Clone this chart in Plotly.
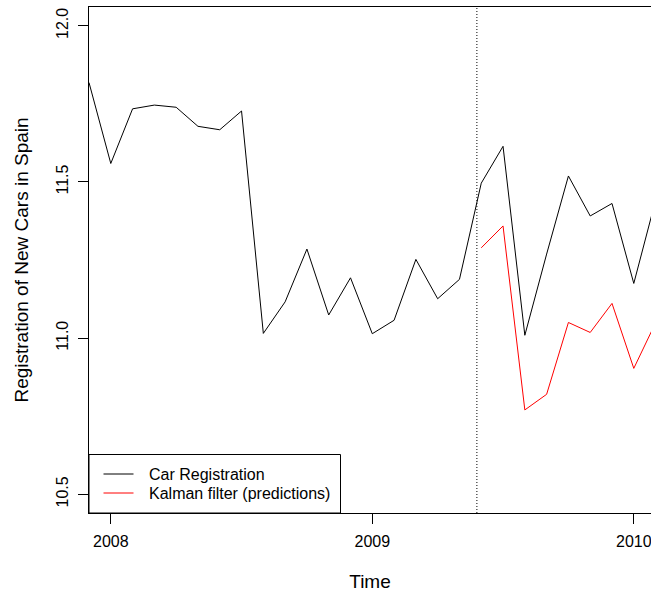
import numpy as np
import plotly.graph_objects as go

# Monthly series, starting December 2007 (log scale registrations)
start_year = 2007 + 11 / 12
registrations = [
    11.818, 11.559, 11.734, 11.746, 11.739, 11.678, 11.667, 11.727,
    11.015, 11.116, 11.285, 11.074, 11.193, 11.014, 11.057, 11.252,
    11.126, 11.188, 11.496, 11.614, 11.009, 11.269, 11.519, 11.391,
    11.431, 11.175, 11.441,
]
# One-step-ahead Kalman filter predictions from June 2009 onwards
pred_start = 18
kalman_pred = [11.289, 11.359, 10.770, 10.820, 11.050, 11.018, 11.111, 10.903, 11.049]
cutoff = 2009.4

x_ticks = [2008, 2009, 2010]
y_ticks = [10.5, 11.0, 11.5, 12.0]
y_tick_text = ["10.5", "11.0", "11.5", "12.0"]

t = start_year + np.arange(len(registrations)) / 12
t_pred = t[pred_start:pred_start + len(kalman_pred)]

W, H = 651, 592
ml, mr, mt, mb = 89, 0, 7, 79
px_per_year = 261.5
x_range = [start_year, start_year + (W - ml - mr) / px_per_year]
y_range = [10.44, 12.06]

font = dict(family="Liberation Sans, Arial, sans-serif", size=16, color="black")

fig = go.Figure()
fig.add_trace(go.Scatter(x=t, y=registrations, mode="lines",
                         line=dict(color="black", width=1), showlegend=False))
fig.add_trace(go.Scatter(x=t_pred, y=kalman_pred, mode="lines",
                         line=dict(color="#ff0000", width=1), showlegend=False))

# forecast origin
fig.add_shape(type="line", xref="x", yref="paper", x0=cutoff, x1=cutoff, y0=0, y1=1,
              line=dict(color="black", width=1, dash="1px,2px"))

# legend box in the lower-left corner
pw, ph = W - ml - mr, H - mt - mb
def px(xp):
    return (xp - ml) / pw
def py(yp):
    return (H - mb - yp) / ph

fig.add_shape(type="rect", xref="paper", yref="paper",
              x0=0, x1=px(340.5), y0=0, y1=py(454.5),
              line=dict(color="black", width=1), fillcolor="white")
legend_items = [("Car Registration", "black", 474.0),
                ("Kalman filter (predictions)", "#ff0000", 493.0)]
for label, col, yy in legend_items:
    fig.add_shape(type="line", xref="paper", yref="paper",
                  x0=px(103.5), x1=px(133.5), y0=py(yy), y1=py(yy),
                  line=dict(color=col, width=1))
    fig.add_annotation(xref="paper", yref="paper", x=px(147), y=py(yy),
                       text=label, showarrow=False, xanchor="left", yanchor="middle",
                       font=font)

fig.update_layout(
    width=W, height=H,
    margin=dict(l=ml, r=mr, t=mt, b=mb),
    paper_bgcolor="white", plot_bgcolor="white",
    font=font,
    xaxis=dict(range=x_range, tickvals=x_ticks, ticks="outside", ticklen=10,
               tickcolor="black", showline=True, linecolor="black", linewidth=1,
               mirror=True, showgrid=False, zeroline=False,
               ticklabeloverflow="allow", ticklabelstandoff=4,
               title=dict(text="Time", standoff=26), tickfont=font),
    yaxis=dict(range=y_range, tickvals=y_ticks, ticktext=y_tick_text,
               tickangle=-90, ticks="outside", ticklen=10, tickcolor="black",
               showline=True, linecolor="black", linewidth=1,
               showgrid=False, zeroline=False, ticklabelstandoff=4,
               title=dict(text="Registration of New Cars in Spain", standoff=19),
               tickfont=font),
)

fig.write_html("out.html")
